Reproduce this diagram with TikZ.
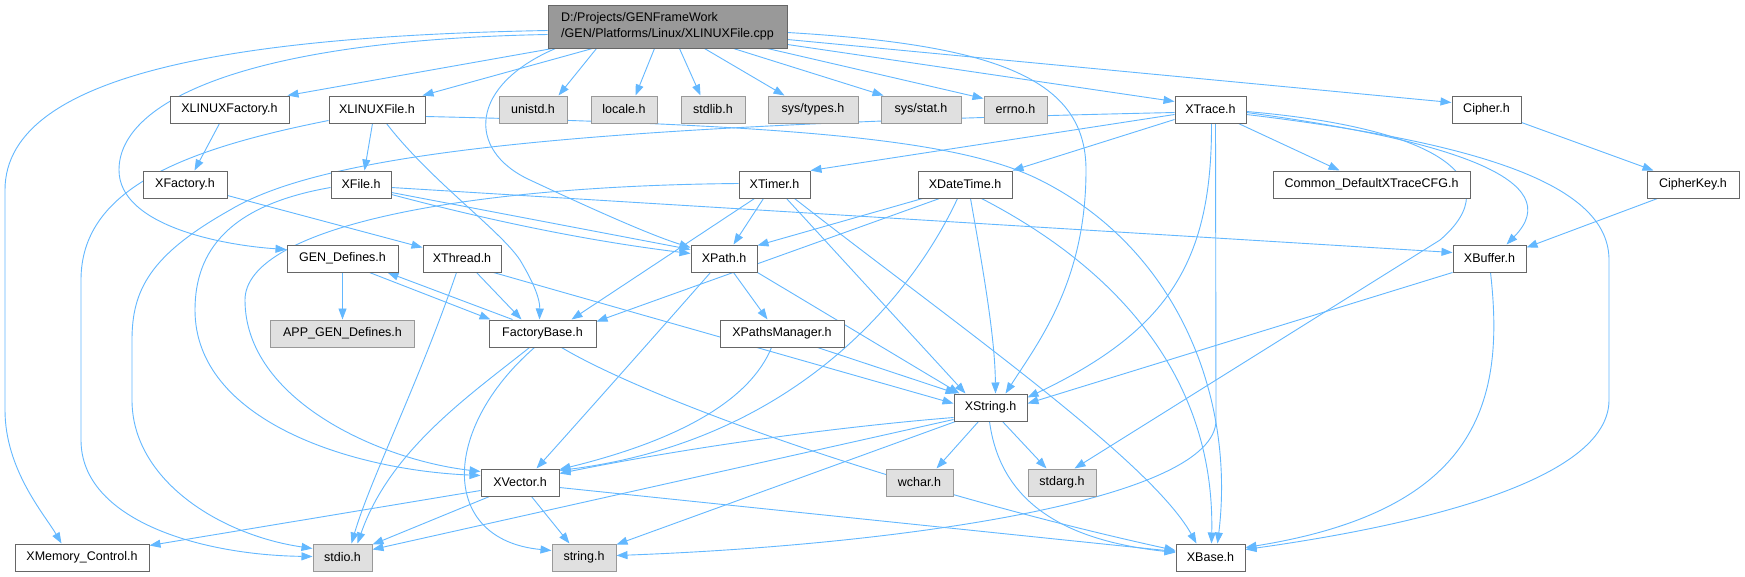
\documentclass[tikz,border=0pt]{standalone}
\usepackage{fontspec}
\setmainfont{Liberation Sans}
\usetikzlibrary{arrows.meta,backgrounds}
\definecolor{edgec}{HTML}{63B8FF}
\definecolor{nodeb}{HTML}{666666}
\definecolor{grayb}{HTML}{999999}
\definecolor{grayf}{HTML}{E0E0E0}
\definecolor{rootf}{HTML}{999999}
\begin{document}
\begin{tikzpicture}[x=1pt,y=-1pt,
  nd/.style={draw=nodeb, fill=white, line width=1pt, minimum height=27pt, inner sep=0pt, font=\fontsize{12.5}{15}\selectfont},
  sysnd/.style={nd, draw=grayb, fill=grayf},
  rootnd/.style={nd, fill=rootf, minimum height=43pt, align=left, font=\fontsize{12.5}{16}\selectfont},
  e/.style={draw=edgec, line width=0.9pt, -{Triangle[length=11pt,width=8pt]}}]
\useasboundingbox (0,0) rectangle (1745,576);
% nodes
\node[rootnd, minimum width=239pt] (root) at (667.5,26.5) {D:/Projects/GENFrameWork\\/GEN/Platforms/Linux/XLINUXFile.cpp};
\node[nd, minimum width=119pt] (XLFac) at (229.5,109.5) {XLINUXFactory.h};
\node[nd, minimum width=96pt] (XLFile) at (377,109.5) {XLINUXFile.h};
\node[sysnd, minimum width=68pt] (unistd) at (533,109.5) {unistd.h};
\node[sysnd, minimum width=66pt] (locale) at (624,109.5) {locale.h};
\node[sysnd, minimum width=64pt] (stdlib) at (713,109.5) {stdlib.h};
\node[sysnd, minimum width=90pt] (systypes) at (813,109.5) {sys/types.h};
\node[sysnd, minimum width=80pt] (sysstat) at (921,109.5) {sys/stat.h};
\node[sysnd, minimum width=63pt] (errno) at (1015.5,109.5) {errno.h};
\node[nd, minimum width=71pt] (XTrace) at (1210.5,109.5) {XTrace.h};
\node[nd, minimum width=69pt] (Cipher) at (1486.5,109.5) {Cipher.h};
\node[nd, minimum width=84pt] (XFactory) at (185,184.5) {XFactory.h};
\node[nd, minimum width=60pt] (XFile) at (361,184.5) {XFile.h};
\node[nd, minimum width=71pt] (XTimer) at (774.5,184.5) {XTimer.h};
\node[nd, minimum width=94pt] (XDateTime) at (965,184.5) {XDateTime.h};
\node[nd, minimum width=197pt] (Common) at (1371.5,184.5) {Common\_DefaultXTraceCFG.h};
\node[nd, minimum width=92pt] (CipherKey) at (1693,184.5) {CipherKey.h};
\node[nd, minimum width=111pt] (GEN) at (342.5,258.5) {GEN\_Defines.h};
\node[nd, minimum width=78pt] (XThread) at (462,258.5) {XThread.h};
\node[nd, minimum width=66pt] (XPath) at (724,258.5) {XPath.h};
\node[nd, minimum width=73pt] (XBuffer) at (1489.5,258.5) {XBuffer.h};
\node[sysnd, minimum width=144pt] (APP) at (342.5,333.5) {APP\_GEN\_Defines.h};
\node[nd, minimum width=107pt] (FBase) at (542.5,333.5) {FactoryBase.h};
\node[nd, minimum width=124pt] (XPM) at (782,333.5) {XPathsManager.h};
\node[nd, minimum width=73pt] (XString) at (990.5,407.5) {XString.h};
\node[nd, minimum width=78pt] (XVector) at (520,482.5) {XVector.h};
\node[sysnd, minimum width=67pt] (wchar) at (919.5,482.5) {wchar.h};
\node[sysnd, minimum width=68pt] (stdarg) at (1062,482.5) {stdarg.h};
\node[nd, minimum width=134pt] (XMem) at (82,557.5) {XMemory\_Control.h};
\node[sysnd, minimum width=59pt] (stdio) at (342.5,557.5) {stdio.h};
\node[sysnd, minimum width=64pt] (string) at (584,557.5) {string.h};
\node[nd, minimum width=69pt] (XBase) at (1210.5,557.5) {XBase.h};
% edges
\begin{scope}[on background layer]
\fill[white] (0,0) rectangle (1745,576);
% root
\draw[e] ([yshift=-26pt]root.north west) .. controls (250,36) and (5,70) .. (5,190) -- (5,410) .. controls (5,470) and (45,515) .. ([xshift=47pt]XMem.north west);
\draw[e] ([yshift=-30pt]root.north west) .. controls (250,40) and (119,100) .. (119,170) .. controls (119,225) and (220,245) .. ([yshift=-5pt]GEN.north west);
\draw[e] ([xshift=5pt]root.south west) -- ([xshift=-2pt]XLFac.north east);
\draw[e] ([xshift=45pt]root.south west) -- ([xshift=-3pt]XLFile.north east);
\draw[e] ([xshift=8pt]root.south west) .. controls (470,85) and (465,150) .. (530,180) .. controls (590,208) and (650,235) .. ([yshift=-3pt]XPath.north west);
\draw[e] ([xshift=49pt]root.south west) -- ([xshift=60pt]unistd.north west);
\draw[e] ([xshift=107pt]root.south west) -- ([xshift=45pt]locale.north west);
\draw[e] ([xshift=132pt]root.south west) -- ([xshift=20pt]stdlib.north west);
\draw[e] ([xshift=157pt]root.south west) -- ([xshift=17pt]systypes.north west);
\draw[e] ([xshift=186pt]root.south west) -- ([xshift=3pt]sysstat.north west);
\draw[e] ([xshift=220pt]root.south west) -- ([yshift=-3pt]errno.north west);
\draw[e] ([yshift=-40pt]root.north east) -- ([yshift=-6pt]XTrace.north west);
\draw[e] ([yshift=-35pt]root.north east) -- ([yshift=-7pt]Cipher.north west);
\draw[e] ([yshift=-28pt]root.north east) .. controls (1000,45) and (1086,80) .. (1086,170) .. controls (1086,280) and (1040,340) .. ([xshift=52pt]XString.north west);
% XLINUXFactory, XLINUXFile
\draw[e] ([xshift=50pt]XLFac.south west) -- ([xshift=52pt]XFactory.north west);
\draw[e] ([xshift=44pt]XLFile.south west) -- ([xshift=34pt]XFile.north west);
\draw[e] ([xshift=58pt]XLFile.south west) .. controls (430,180) and (500,230) .. (520,260) .. controls (535,285) and (540,300) .. ([xshift=51pt]FBase.north west);
\draw[e] ([yshift=-25pt]XLFile.north west) .. controls (180,150) and (81,190) .. (81,280) -- (81,440) .. controls (81,520) and (200,555) .. ([yshift=-13pt]stdio.north west);
\draw[e] ([yshift=-21pt]XLFile.north east) .. controls (800,125) and (960,140) .. (1040,180) .. controls (1180,250) and (1235,400) .. ([xshift=42pt]XBase.north west);
% XFactory, XFile
\draw[e] ([yshift=-25pt]XFactory.north east) -- ([yshift=-3pt]XThread.north west);
\draw[e] ([yshift=-17pt]XFile.north west) .. controls (230,205) and (195,250) .. (195,310) .. controls (195,420) and (350,470) .. ([yshift=-7pt]XVector.north west);
\draw[e] ([yshift=-22pt]XFile.north east) -- ([yshift=-5pt]XPath.north west);
\draw[e] ([yshift=-24pt]XFile.north east) .. controls (480,218) and (580,240) .. ([yshift=-9pt]XPath.north west);
\draw[e] ([yshift=-17pt]XFile.north east) -- ([yshift=-8pt]XBuffer.north west);
% XTimer
\draw[e] ([xshift=25pt]XTimer.south west) -- ([xshift=43pt]XPath.north west);
\draw[e] ([xshift=16pt]XTimer.south west) -- ([xshift=-25pt]FBase.north east);
\draw[e] ([xshift=48pt]XTimer.south west) -- ([xshift=12pt]XString.north west);
\draw[e] ([xshift=56pt]XTimer.south west) .. controls (950,320) and (1150,460) .. ([xshift=21pt]XBase.north west);
\draw[e] ([yshift=-13pt]XTimer.north west) .. controls (450,186) and (245,230) .. (245,300) .. controls (245,400) and (380,460) .. ([yshift=-3pt]XVector.north west);
% XDateTime
\draw[e] ([xshift=5pt]XDateTime.south west) -- ([yshift=-1pt]XPath.north east);
\draw[e] ([xshift=22pt]XDateTime.south west) -- ([yshift=-2pt]FBase.north east);
\draw[e] ([xshift=40pt]XDateTime.south west) .. controls (915,290) and (800,440) .. ([yshift=-2pt]XVector.north east);
\draw[e] ([xshift=53pt]XDateTime.south west) .. controls (985,280) and (995,340) .. ([xshift=42pt]XString.north west);
\draw[e] ([xshift=64pt]XDateTime.south west) .. controls (1120,270) and (1215,380) .. ([xshift=36pt]XBase.north west);
% XTrace
\draw[e] ([yshift=-19pt]XTrace.north west) -- (XTimer.north east);
\draw[e] ([yshift=-24pt]XTrace.north west) -- (XDateTime.north east);
\draw[e] ([xshift=64pt]XTrace.south west) -- ([xshift=67pt]Common.north west);
\draw[e] ([yshift=-17pt]XTrace.north east) .. controls (1450,140) and (1570,180) .. ([xshift=54pt]XBuffer.north west);
\draw[e] ([yshift=-16pt]XTrace.north east) .. controls (1440,128) and (1510,180) .. (1440,240) -- ([xshift=47pt]stdarg.north west);
\draw[e] ([yshift=-19pt]XTrace.north east) .. controls (1500,145) and (1609,190) .. (1609,260) -- (1609,400) .. controls (1609,480) and (1420,525) .. ([yshift=-6pt]XBase.north east);
\draw[e] ([xshift=37pt]XTrace.south west) .. controls (1212,260) and (1170,330) .. ([yshift=-4pt]XString.north east);
\draw[e] ([xshift=41pt]XTrace.south west) -- (1216,420) .. controls (1216,500) and (900,545) .. ([yshift=-12pt]string.north east);
\draw[e] ([yshift=-17pt]XTrace.north west) .. controls (600,125) and (330,150) .. (230,210) .. controls (150,255) and (132,290) .. (132,340) -- (132,400) .. controls (132,480) and (220,535) .. ([yshift=-5pt]stdio.north west);
% Cipher
\draw[e] ([yshift=1pt]Cipher.south east) -- ([xshift=7pt]CipherKey.north west);
\draw[e] ([xshift=11pt]CipherKey.south west) -- ([yshift=-3pt]XBuffer.north east);
% GEN_Defines, XThread, FactoryBase
\draw[e] (GEN) -- (APP);
\draw[e] ([xshift=83pt]GEN.south west) -- ([xshift=2pt]FBase.north west);
\draw[e] ([xshift=24pt]FBase.north west) -- ([xshift=-11pt]GEN.south east);
\draw[e] ([xshift=54pt]XThread.south west) -- ([xshift=33pt]FBase.north west);
\draw[e] ([xshift=34pt]XThread.south west) .. controls (420,380) and (370,480) .. ([xshift=39pt]stdio.north west);
\draw[e] ([xshift=71pt]XThread.south west) -- ([yshift=-10pt]XString.north west);
\draw[e] ([xshift=41pt]FBase.south west) .. controls (470,395) and (390,450) .. ([xshift=45pt]stdio.north west);
\draw[e] ([xshift=46pt]FBase.south west) .. controls (440,430) and (440,540) .. ([yshift=-7pt]string.north west);
\draw[e] ([xshift=73pt]FBase.south west) .. controls (650,400) and (900,490) .. ([yshift=-7pt]XBase.north west);
% XPath, XPathsManager
\draw[e] ([xshift=20pt]XPath.south west) .. controls (660,330) and (580,420) .. ([xshift=56pt]XVector.north west);
\draw[e] ([xshift=43pt]XPath.south west) -- ([xshift=48pt]XPM.north west);
\draw[e] (XPath.south east) -- ([xshift=6pt]XString.north west);
\draw[e] ([xshift=98pt]XPM.south west) -- ([xshift=3pt]XString.north west);
\draw[e] ([xshift=52pt]XPM.south west) .. controls (750,400) and (680,440) .. ([yshift=-1pt]XVector.north east);
% XString
\draw[e] ([yshift=-24pt]XString.north west) .. controls (800,430) and (650,455) .. ([yshift=-5pt]XVector.north east);
\draw[e] ([yshift=-26pt]XString.north west) -- ([yshift=-6pt]stdio.north east);
\draw[e] ([xshift=2pt]XString.south west) -- ([yshift=-1pt]string.north east);
\draw[e] ([xshift=25pt]XString.south west) -- ([xshift=51pt]wchar.north west);
\draw[e] ([xshift=49pt]XString.south west) -- ([xshift=19pt]stdarg.north west);
\draw[e] ([xshift=36pt]XString.south west) .. controls (1000,500) and (1060,540) .. ([yshift=-9pt]XBase.north west);
% XVector
\draw[e] ([yshift=-22pt]XVector.north west) -- ([yshift=-2pt]XMem.north east);
\draw[e] ([xshift=9pt]XVector.south west) -- ([yshift=-1pt]stdio.north east);
\draw[e] ([xshift=51pt]XVector.south west) -- ([xshift=18pt]string.north west);
\draw[e] ([yshift=-19pt]XVector.north east) -- ([yshift=-8pt]XBase.north west);
% XBuffer
\draw[e] (XBuffer.south west) -- ([yshift=-10pt]XString.north east);
\draw[e] ([xshift=38pt]XBuffer.south west) .. controls (1505,400) and (1480,510) .. ([yshift=-4pt]XBase.north east);
\end{scope}
\end{tikzpicture}
\end{document}
